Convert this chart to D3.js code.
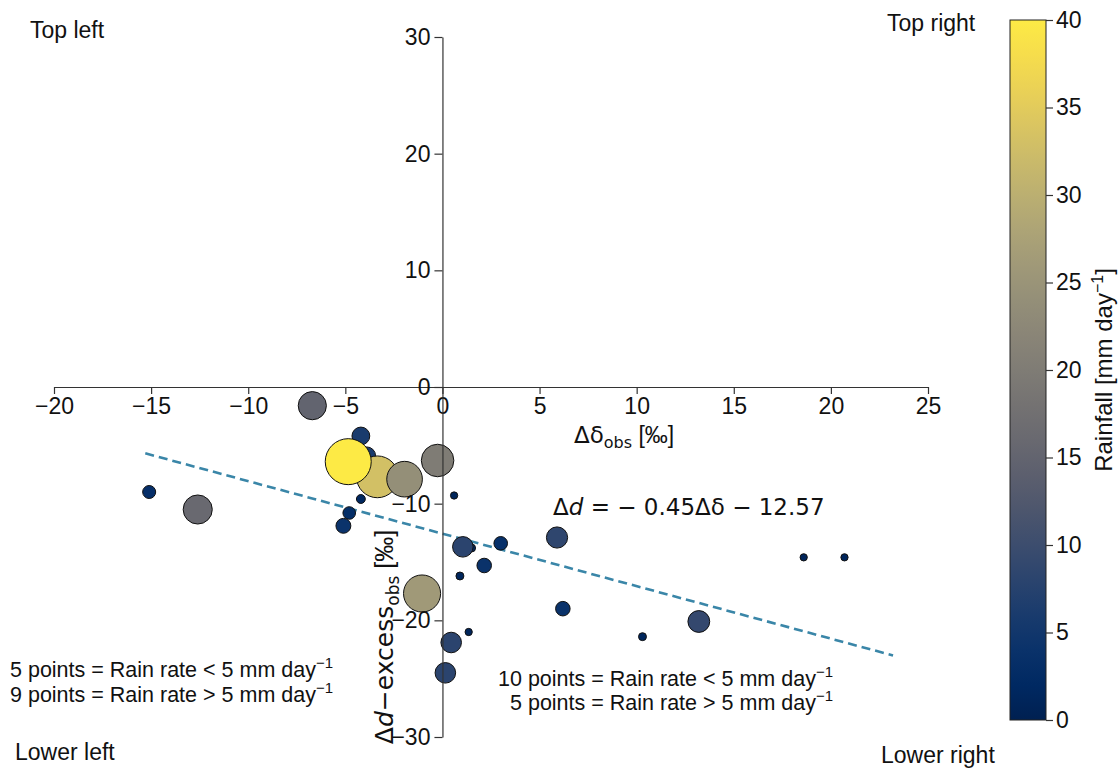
<!DOCTYPE html>
<html>
<head>
<meta charset="utf-8">
<script src="https://cdn.jsdelivr.net/npm/d3@7"></script>
<style>
body { margin: 0; background: #fff; }
text { font-family: "Liberation Sans", Arial, sans-serif; fill: #111; }
.math { font-family: "DejaVu Sans", sans-serif; }
</style>
</head>
<body>
<script>
// data: change in delta (x), change in d-excess (y), rainfall (colour + size)
var deltaDelta   = [-3.9, -4.2, -3.0, -3.35, -4.85, -1.95, -0.25, -6.7, -4.2, -4.8, -5.1, -15.1, -12.6, -1.05,
                    0.6, 1.5, 1.05, 3.0, 2.15, 0.9, 5.9, 18.6, 20.7, 6.2, 13.2, 10.3, 1.35, 0.45, 0.15];
var deltaDexcess = [-5.9, -4.2, -7.4, -7.7, -6.4, -7.9, -6.3, -1.6, -9.6, -10.8, -11.9, -9.0, -10.5, -17.7,
                    -9.3, -13.8, -13.7, -13.4, -15.3, -16.2, -12.9, -14.6, -14.6, -19.0, -20.1, -21.4, -21.0, -21.9, -24.5];
var rainfall     = [6, 6, 3, 33, 40, 24, 20, 15, 1.5, 3, 4.2, 3.2, 16, 26,
                    1, 1.2, 8, 3.5, 4, 1.2, 8.5, 1, 1, 4, 9, 1.2, 1, 8, 8];

var xTicks = [-20, -15, -10, -5, 0, 5, 10, 15, 20, 25];
var yTicks = [-30, -20, -10, 0, 10, 20, 30];
var cbarTicks = [0, 5, 10, 15, 20, 25, 30, 35, 40];

var fitSlope = -0.45, fitIntercept = -12.57;
var fitRange = [-15.3, 23.2];

var cornerLabels = ["Top left", "Top right", "Lower left", "Lower right"];
var countLeft = ["5 points = Rain rate < 5 mm day", "9 points = Rain rate > 5 mm day"];
var countRight = ["10 points = Rain rate < 5 mm day", "5 points = Rain rate > 5 mm day"];

var points = deltaDelta.map(function (d, i) { return {x: d, y: deltaDexcess[i], rain: rainfall[i]}; });

var svg = d3.select("body").append("svg")
    .attr("width", 1118)
    .attr("height", 769);

var x = d3.scaleLinear().domain([-20, 25]).range([54, 928]);
var y = d3.scaleLinear().domain([-30, 30]).range([737, 37]);
var color = d3.scaleSequential(d3.interpolateCividis).domain([0, 40]);
var radius = d3.scaleSqrt().domain([0, 40]).range([0, 23]);
var fmt = function (d) { return d < 0 ? "\u2212" + Math.abs(d) : "" + d; };

// regression line
var fitLine = d3.line()
    .x(function (d) { return x(d); })
    .y(function (d) { return y(fitSlope * d + fitIntercept); });

svg.append("path")
    .attr("d", fitLine(fitRange))
    .attr("fill", "none")
    .attr("stroke", "#3a86a8")
    .attr("stroke-width", 2.6)
    .attr("stroke-dasharray", "9,5");

// scatter
svg.append("g").selectAll("circle")
    .data(points)
    .enter().append("circle")
        .attr("cx", function (d) { return x(d.x); })
        .attr("cy", function (d) { return y(d.y); })
        .attr("r", function (d) { return radius(d.rain); })
        .attr("fill", function (d) { return color(d.rain); })
        .attr("stroke", "#111")
        .attr("stroke-width", 1);

// axes through the origin
var xAxis = svg.append("g")
    .attr("transform", "translate(0," + y(0) + ")")
    .call(d3.axisBottom(x).tickValues(xTicks).tickFormat(fmt).tickSize(7).tickSizeOuter(0).tickPadding(4));

var yAxis = svg.append("g")
    .attr("transform", "translate(" + x(0) + ",0)")
    .call(d3.axisLeft(y).tickValues(yTicks).tickFormat(fmt).tickSize(8).tickSizeOuter(0).tickPadding(4));

[xAxis, yAxis].forEach(function (g) {
    g.selectAll("path, line").attr("stroke", "#333").attr("stroke-width", 1.2);
    g.selectAll("text").attr("font-size", 23).attr("font-family", "Liberation Sans, Arial, sans-serif").attr("fill", "#111");
});

// axis labels
var xl = svg.append("text").attr("x", 574).attr("y", 443).attr("font-size", 23);
xl.append("tspan").attr("class", "math").text("\u0394\u03b4");
xl.append("tspan").attr("class", "math").attr("font-size", 16).attr("dy", 5).text("obs");
xl.append("tspan").attr("dy", -5).text(" [\u2030]");

var yl = svg.append("text")
    .attr("transform", "translate(393,637) rotate(-90)")
    .attr("text-anchor", "middle")
    .attr("font-size", 25);
yl.append("tspan").attr("class", "math").text("\u0394");
yl.append("tspan").attr("class", "math").attr("font-style", "italic").text("d");
yl.append("tspan").attr("class", "math").text("\u2212excess");
yl.append("tspan").attr("class", "math").attr("font-size", 17).attr("dy", 6).text("obs");
yl.append("tspan").attr("dy", -6).text(" [\u2030]");

// regression equation
var eq = svg.append("text").attr("class", "math").attr("x", 553).attr("y", 515).attr("font-size", 23);
eq.append("tspan").text("\u0394");
eq.append("tspan").attr("font-style", "italic").text("d");
eq.append("tspan").text(" =  \u2212 0.45\u0394\u03b4 \u2212 12.57");

// quadrant labels
var cornerPos = [[30, 38], [887, 31], [15, 760], [881, 763]];
svg.selectAll("text.corner")
    .data(cornerLabels)
    .enter().append("text")
        .attr("class", "corner")
        .attr("x", function (d, i) { return cornerPos[i][0]; })
        .attr("y", function (d, i) { return cornerPos[i][1]; })
        .attr("font-size", 23)
        .text(function (d) { return d; });

// point counts
function countText(lines, xs, ys) {
    lines.forEach(function (s, i) {
        var t = svg.append("text").attr("x", xs[i]).attr("y", ys[i]).attr("font-size", 21.5);
        t.append("tspan").text(s);
        t.append("tspan").attr("font-size", 15).attr("dy", -9).text("\u22121");
    });
}
countText(countLeft, [10, 10], [677, 702]);
countText(countRight, [498, 510], [686, 710]);

// colorbar
var cbX = 1010, cbW = 36;
var cy = d3.scaleLinear().domain([0, 40]).range([720, 20]);
var grad = svg.append("defs").append("linearGradient")
    .attr("id", "cbar").attr("x1", 0).attr("x2", 0).attr("y1", 1).attr("y2", 0);
d3.range(0, 1.0001, 0.05).forEach(function (t) {
    grad.append("stop").attr("offset", t).attr("stop-color", d3.interpolateCividis(t));
});
svg.append("rect")
    .attr("x", cbX).attr("y", cy(40)).attr("width", cbW).attr("height", cy(0) - cy(40))
    .attr("fill", "url(#cbar)")
    .attr("stroke", "#222").attr("stroke-width", 1);

var cAxis = svg.append("g")
    .attr("transform", "translate(" + (cbX + cbW) + ",0)")
    .call(d3.axisRight(cy).tickValues(cbarTicks).tickSize(7).tickSizeOuter(0).tickPadding(3));
cAxis.select(".domain").remove();
cAxis.selectAll("line").attr("stroke", "#333").attr("stroke-width", 1.2);
cAxis.selectAll("text").attr("font-size", 23).attr("font-family", "Liberation Sans, Arial, sans-serif").attr("fill", "#111");

var cl = svg.append("text")
    .attr("transform", "translate(1112,370) rotate(-90)")
    .attr("text-anchor", "middle")
    .attr("font-size", 24);
cl.append("tspan").text("Rainfall [mm day");
cl.append("tspan").attr("font-size", 16).attr("dy", -9).text("\u22121");
cl.append("tspan").attr("dy", 9).text("]");
</script>
</body>
</html>
